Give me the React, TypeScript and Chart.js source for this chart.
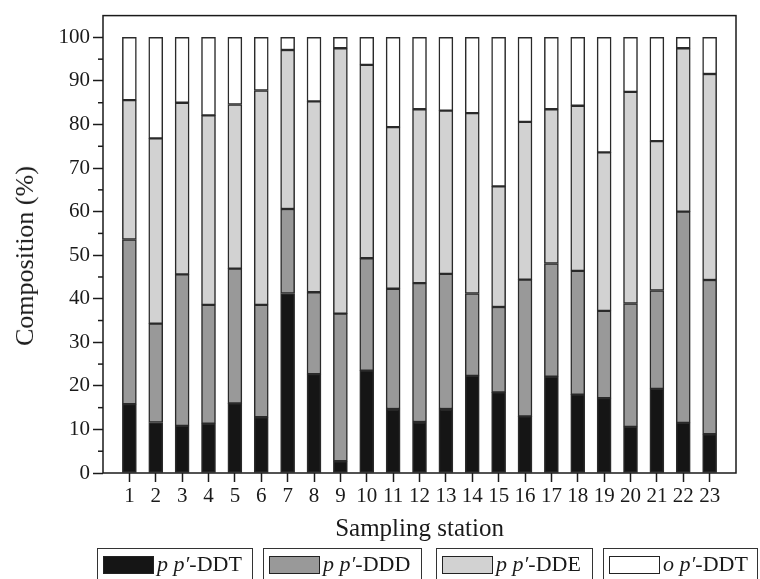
import React, { useEffect, useRef } from 'react';
import { Chart, registerables } from 'chart.js';

Chart.register(...registerables);

const stations = ['1', '2', '3', '4', '5', '6', '7', '8', '9', '10', '11', '12', '13', '14', '15', '16', '17', '18', '19', '20', '21', '22', '23'];
const ppDDT = [15.8, 11.6, 10.8, 11.3, 16.0, 12.8, 41.2, 22.7, 2.7, 23.5, 14.7, 11.7, 14.7, 22.3, 18.5, 13.0, 22.1, 18.0, 17.2, 10.6, 19.3, 11.5, 8.9];
const ppDDD = [37.8, 22.7, 34.8, 27.3, 30.9, 25.8, 19.4, 18.8, 33.9, 25.8, 27.6, 31.9, 31.0, 18.9, 19.6, 31.4, 26.0, 28.4, 20.0, 28.3, 22.6, 48.5, 35.4];
const ppDDE = [32.0, 42.5, 39.4, 43.5, 37.7, 49.2, 36.5, 43.8, 60.9, 44.4, 37.1, 39.9, 37.5, 41.4, 27.7, 36.2, 35.4, 37.9, 36.4, 48.6, 34.3, 37.5, 47.3];
const opDDT = [14.4, 23.2, 15.0, 17.9, 15.4, 12.2, 2.9, 14.7, 2.5, 6.3, 20.6, 16.5, 16.8, 17.4, 34.2, 19.4, 16.5, 15.7, 26.4, 12.5, 23.8, 2.5, 8.4];
const yTickValues = [0, 10, 20, 30, 40, 50, 60, 70, 80, 90, 100];
const legendItalic = ['p p\u2032', 'p p\u2032', 'p p\u2032', 'o p\u2032'];
const legendSuffix = ['-DDT', '-DDD', '-DDE', '-DDT'];
const seriesColors = ['#151515', '#999999', '#d2d2d2', '#ffffff'];
const xTitle = 'Sampling station';
const yTitle = 'Composition (%)';

const FONT = "'Liberation Serif', 'Times New Roman', serif";
const INK = '#1a1a1a';

const legendBoxes = [
  { left: 97, width: 156 },
  { left: 263, width: 159 },
  { left: 436, width: 157 },
  { left: 603, width: 155 },
];

const framePlugin = {
  id: 'frame',
  afterDraw(chart: any) {
    const { ctx, chartArea } = chart;
    const { left, right, top, bottom } = chartArea;
    const y = chart.scales.y;
    ctx.save();
    ctx.strokeStyle = INK;
    ctx.lineWidth = 1.5;
    ctx.strokeRect(left, top, right - left, bottom - top);
    for (let v = 5; v < 100; v += 10) {
      const py = y.getPixelForValue(v);
      ctx.beginPath();
      ctx.moveTo(left - 5, py);
      ctx.lineTo(left, py);
      ctx.stroke();
    }
    ctx.restore();
  },
};

export default function App() {
  const canvasRef = useRef<HTMLCanvasElement | null>(null);

  useEffect(() => {
    const canvas = canvasRef.current;
    if (!canvas) return;
    const pad = (a: number[]) => [null, ...a, null];
    const labels = ['', ...stations, ''];
    const series = [ppDDT, ppDDD, ppDDE, opDDT];
    const names = legendItalic.map((p, i) => p + legendSuffix[i]);
    const chart = new Chart(canvas, {
      type: 'bar',
      data: {
        labels,
        datasets: series.map((s, i) => ({
          label: names[i],
          data: pad(s) as any,
          backgroundColor: seriesColors[i],
          borderColor: '#2a2a2a',
          borderWidth: 1.5,
          borderSkipped: false,
          barThickness: 14,
        })),
      },
      options: {
        animation: false,
        responsive: false,
        devicePixelRatio: 1,
        layout: { padding: { left: 0, right: 24, top: 12, bottom: 0 } },
        plugins: {
          legend: { display: false },
          tooltip: { enabled: false },
        },
        scales: {
          x: {
            stacked: true,
            offset: false,
            border: { display: false },
            grid: {
              offset: false,
              drawOnChartArea: false,
              tickLength: 9,
              tickWidth: 1.5,
              tickColor: (c: any) => (c.index === 0 || c.index === labels.length - 1 ? 'rgba(0,0,0,0)' : INK),
            },
            ticks: {
              autoSkip: false,
              maxRotation: 0,
              padding: 2,
              color: INK,
              font: { family: FONT, size: 21 },
            },
            title: {
              display: true,
              text: xTitle,
              color: INK,
              font: { family: FONT, size: 25 },
              padding: { top: 0, bottom: 35 },
            },
            afterFit: (s: any) => {
              s.height = 106;
            },
          },
          y: {
            stacked: true,
            min: 0,
            max: 105,
            border: { display: false },
            grid: {
              drawOnChartArea: false,
              tickLength: 10,
              tickWidth: 1.5,
              tickColor: INK,
            },
            afterBuildTicks: (s: any) => {
              s.ticks = yTickValues.map((v) => ({ value: v }));
            },
            ticks: {
              padding: 3,
              color: INK,
              font: { family: FONT, size: 21 },
            },
            afterFit: (s: any) => {
              s.width = 103;
            },
          },
        },
      },
      plugins: [framePlugin],
    });
    return () => chart.destroy();
  }, []);

  return (
    <div
      style={{
        position: 'fixed',
        left: 0,
        top: 0,
        width: 760,
        height: 579,
        overflow: 'hidden',
        background: '#fff',
        fontFamily: FONT,
        color: INK,
      }}
    >
      <canvas ref={canvasRef} width={760} height={579} style={{ position: 'absolute', left: 0, top: 0, width: 760, height: 579 }} />
      <div
        style={{
          position: 'absolute',
          left: 25,
          top: 256,
          transform: 'translate(-50%, -50%) rotate(-90deg)',
          whiteSpace: 'nowrap',
          fontSize: 26,
          lineHeight: '28px',
        }}
      >
        {yTitle}
      </div>
      {legendBoxes.map((b, i) => (
        <div
          key={i}
          style={{
            position: 'absolute',
            left: b.left,
            top: 548,
            width: b.width,
            height: 40,
            boxSizing: 'border-box',
            border: '1.5px solid #333',
          }}
        >
          <div
            style={{
              position: 'absolute',
              left: 5,
              top: 7,
              width: 51,
              height: 18,
              boxSizing: 'border-box',
              border: '1.5px solid #222',
              background: seriesColors[i],
            }}
          />
          <div
            style={{
              position: 'absolute',
              left: 59,
              top: 2,
              fontSize: 22,
              lineHeight: '26px',
              whiteSpace: 'nowrap',
            }}
          >
            <i>{legendItalic[i]}</i>
            {legendSuffix[i]}
          </div>
        </div>
      ))}
    </div>
  );
}
